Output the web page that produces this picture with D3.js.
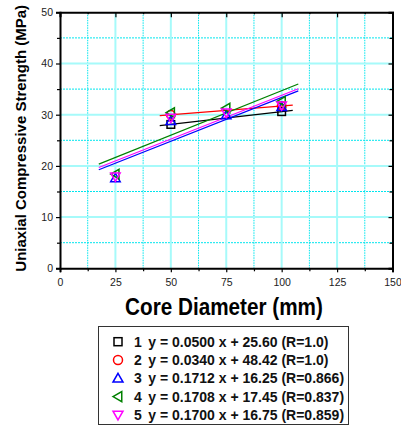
<!DOCTYPE html>
<html>
<head>
<meta charset="utf-8">
<script src="https://cdn.jsdelivr.net/npm/d3@7"></script>
<style>
  html, body { margin: 0; padding: 0; background: #fff; }
  svg { display: block; font-family: "Liberation Sans", Arial, sans-serif; }
</style>
</head>
<body>
<svg id="chart" width="401" height="427"></svg>
<script>
// Core diameter (mm) at which specimens were tested
const diameters = [25, 50, 75, 100];

// Uniaxial compressive strength (MPa) per test series
const s1x = [50, 100];
const s1y = [28.1, 30.6];
const s2x = [50, 100];
const s2y = [30.0, 31.7];
const s3y = [17.6, 28.8, 29.9, 31.5];
const s4y = [18.4, 30.4, 31.3, 32.6];
const s5y = [17.9, 29.4, 30.4, 31.8];

const seriesIds = ["1", "2", "3", "4", "5"];
const fitLabels = [
  "y = 0.0500 x + 25.60 (R=1.0)",
  "y = 0.0340 x + 48.42 (R=1.0)",
  "y = 0.1712 x + 16.25 (R=0.866)",
  "y = 0.1708 x + 17.45 (R=0.837)",
  "y = 0.1700 x + 16.75 (R=0.859)"
];
const xTicks = [0, 25, 50, 75, 100, 125, 150];
const yTicks = [0, 10, 20, 30, 40, 50];

const colors = ["#000000", "#ff0000", "#0000ff", "#008000", "#ff00ff"];
const shapes = ["square", "circle", "up", "left", "down"];

const series = [
  { x: s1x, y: s1y },
  { x: s2x, y: s2y },
  { x: diameters, y: s3y },
  { x: diameters, y: s4y },
  { x: diameters, y: s5y }
].map((s, i) => ({ ...s, id: seriesIds[i], label: fitLabels[i], color: colors[i], shape: shapes[i] }));

const svg = d3.select("#chart");
const L = 60, R = 392.5, T = 12.3, B = 268.3;
const x = d3.scaleLinear().domain([0, 150]).range([L, R]);
const y = d3.scaleLinear().domain([0, 50]).range([B, T]);

// grid: minor dotted, major solid
const g = svg.append("g");
const xMinor = d3.range(12.5, 150, 25);
const yMinor = d3.range(5, 50, 10);
g.selectAll(".vmin").data(xMinor).join("line")
  .attr("x1", d => x(d)).attr("x2", d => x(d)).attr("y1", T).attr("y2", B)
  .attr("stroke", "#00e6ee").attr("stroke-width", 1).attr("stroke-dasharray", "1.5,1");
g.selectAll(".hmin").data(yMinor).join("line")
  .attr("x1", L).attr("x2", R).attr("y1", d => y(d)).attr("y2", d => y(d))
  .attr("stroke", "#00e6ee").attr("stroke-width", 1).attr("stroke-dasharray", "2,1");
g.selectAll(".vmaj").data(xTicks.slice(1, -1)).join("line")
  .attr("x1", d => x(d)).attr("x2", d => x(d)).attr("y1", T).attr("y2", B)
  .attr("stroke", "#a6fafa").attr("stroke-width", 2);
g.selectAll(".hmaj").data(yTicks.slice(1, -1)).join("line")
  .attr("x1", L).attr("x2", R).attr("y1", d => y(d)).attr("y2", d => y(d))
  .attr("stroke", "#a6fafa").attr("stroke-width", 2);

// axes
const tickFont = g => g.selectAll("text").attr("font-size", 10.5).attr("fill", "#222")
  .attr("font-family", "'Liberation Sans', Arial, sans-serif");
svg.append("g").attr("transform", `translate(0,${B})`)
  .call(d3.axisBottom(x).tickValues(xTicks).tickSize(4).tickPadding(6).tickFormat(d3.format("d")))
  .call(tickFont);
svg.append("g").attr("transform", `translate(0,${B})`)
  .call(d3.axisBottom(x).tickValues(xMinor).tickSize(3).tickFormat(""))
  .call(s => s.select(".domain").remove());
svg.append("g").attr("transform", `translate(${L},0)`)
  .call(d3.axisLeft(y).tickValues(yTicks).tickSize(4).tickPadding(3).tickFormat(d3.format("d")))
  .call(tickFont);
svg.append("g").attr("transform", `translate(${L},0)`)
  .call(d3.axisLeft(y).tickValues(yMinor).tickSize(3).tickFormat(""))
  .call(s => s.select(".domain").remove());
svg.append("g").attr("transform", `translate(0,${T})`)
  .call(d3.axisBottom(x).tickValues(xTicks).tickSize(5).tickFormat(""));
svg.append("g").attr("transform", `translate(0,${T})`)
  .call(d3.axisBottom(x).tickValues(xMinor).tickSize(2).tickFormat(""))
  .call(s => s.select(".domain").remove());
svg.append("g").attr("transform", `translate(${R},0)`)
  .call(d3.axisLeft(y).tickValues(yTicks).tickSize(4).tickFormat(""));
svg.append("g").attr("transform", `translate(${R},0)`)
  .call(d3.axisLeft(y).tickValues(yMinor).tickSize(3).tickFormat(""))
  .call(s => s.select(".domain").remove());
svg.selectAll(".domain").attr("stroke", "#000").attr("stroke-width", 2);
svg.selectAll(".tick line").attr("stroke", "#000").attr("stroke-width", 1.2);

// least-squares fit drawn over the data span widened by 10% each side
function fit(xs, ys) {
  const mx = d3.mean(xs), my = d3.mean(ys);
  const sxy = d3.sum(xs, (v, i) => (v - mx) * (ys[i] - my));
  const sxx = d3.sum(xs, v => (v - mx) ** 2);
  const b = sxy / sxx, a = my - b * mx;
  const [lo, hi] = d3.extent(xs), pad = (hi - lo) * 0.1;
  return [[lo - pad, a + b * (lo - pad)], [hi + pad, a + b * (hi + pad)]];
}

const line = d3.line().x(d => x(d[0])).y(d => y(d[1]));

function marker(sel, shape, color, s) {
  const h = s / 2;
  if (shape === "square") {
    sel.append("rect").attr("x", -h * 0.8).attr("y", -h * 0.8).attr("width", s * 0.8).attr("height", s * 0.8);
  } else if (shape === "circle") {
    sel.append("circle").attr("r", h * 0.9);
  } else {
    const pts = {
      up: [[0, -h], [h, h * 0.75], [-h, h * 0.75]],
      down: [[0, h], [h, -h * 0.75], [-h, -h * 0.75]],
      left: [[-h, 0], [h * 0.75, -h], [h * 0.75, h]]
    }[shape];
    sel.append("path").attr("d", "M" + pts.map(p => p.join(",")).join("L") + "Z");
  }
  sel.selectAll("*").attr("fill", "none").attr("stroke", color).attr("stroke-width", 1.5);
}

const plot = svg.append("g");
series.forEach(s => {
  plot.append("path").datum(fit(s.x, s.y)).attr("d", line)
    .attr("fill", "none").attr("stroke", s.color).attr("stroke-width", 1.2);
});
series.forEach(s => {
  s.x.forEach((xv, i) => {
    const m = plot.append("g").attr("transform", `translate(${x(xv)},${y(s.y[i])})`);
    marker(m, s.shape, s.color, 9.5);
  });
});

// titles
svg.append("text").attr("transform", "translate(224,314.5) scale(1,1.15)").attr("text-anchor", "middle")
  .attr("font-size", 20.7).attr("font-weight", "bold").attr("fill", "#000")
  .text("Core Diameter (mm)");
svg.append("text").attr("transform", "translate(26,138.3) rotate(-90)").attr("text-anchor", "middle")
  .attr("font-size", 15).attr("font-weight", "bold").attr("fill", "#000")
  .text("Uniaxial Compressive Strength (MPa)");

// legend
const lg = svg.append("g");
lg.append("rect").attr("x", 98.5).attr("y", 326.5).attr("width", 250).attr("height", 98)
  .attr("fill", "#fff").attr("stroke", "#333").attr("stroke-width", 1);
series.forEach((s, i) => {
  const cy = 341.7 + i * 18.3;
  const m = lg.append("g").attr("transform", `translate(118,${cy})`);
  marker(m, s.shape, s.color, 10);
  lg.append("text").attr("x", 134).attr("y", cy + 5).attr("font-size", 14).attr("font-weight", "bold")
    .attr("fill", "#111").text(s.id);
  lg.append("text").attr("x", 148.3).attr("y", cy + 5).attr("font-size", 14).attr("font-weight", "bold")
    .attr("fill", "#111").text(s.label);
});
</script>
</body>
</html>
